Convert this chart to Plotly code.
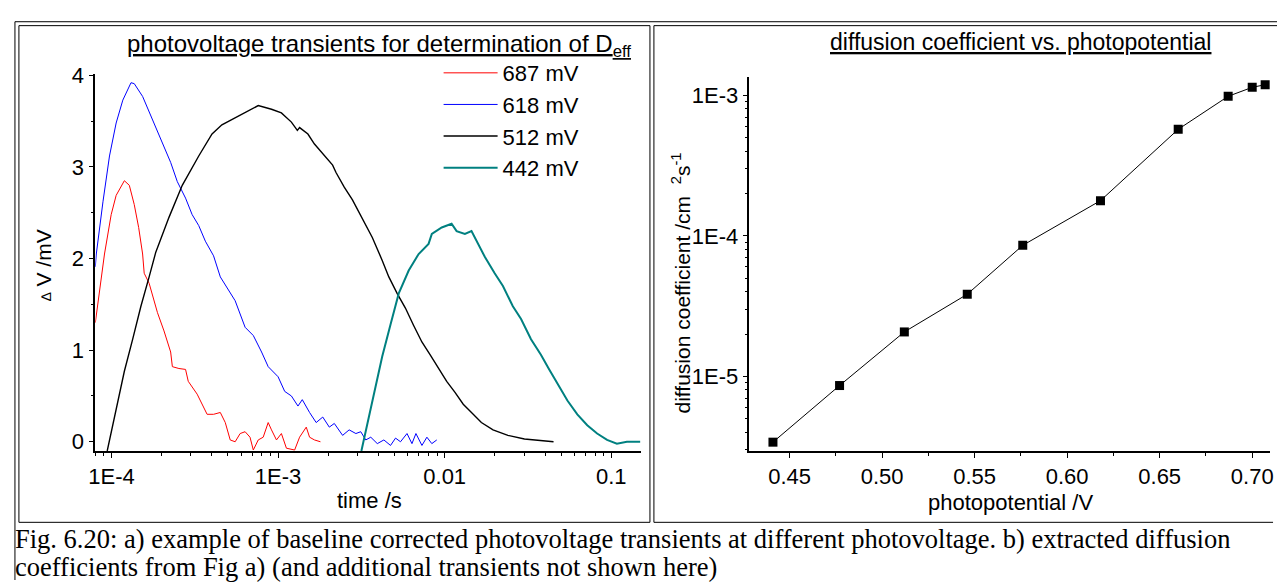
import plotly.graph_objects as go

# ---------------- data ----------------
t_687 = [8.0e-5, 9.08e-5, 9.96e-5, 1.067e-4, 1.195e-4, 1.28e-4, 1.37e-4, 1.456e-4, 1.538e-4, 1.572e-4,
         1.683e-4, 1.888e-4, 2.067e-4, 2.266e-4, 2.32e-4, 2.54e-4, 2.784e-4, 2.89e-4, 3.268e-4, 3.50e-4,
         3.75e-4, 4.10e-4, 4.50e-4, 4.82e-4, 5.16e-4, 5.525e-4, 5.92e-4, 6.34e-4, 6.785e-4, 7.10e-4,
         7.60e-4, 8.14e-4, 8.72e-4, 9.13e-4, 9.78e-4, 1.047e-3, 1.122e-3, 1.257e-3, 1.346e-3, 1.476e-3,
         1.545e-3, 1.653e-3, 1.796e-3]
v_687 = [1.30, 2.05, 2.48, 2.69, 2.85, 2.80, 2.59, 2.34, 2.05, 1.84,
         1.73, 1.41, 1.21, 0.98, 0.82, 0.80, 0.79, 0.66, 0.52, 0.41,
         0.30, 0.30, 0.32, 0.21, 0.02, 0.00, 0.09, 0.11, 0.05, -0.09,
         0.02, 0.05, 0.21, 0.13, 0.02, 0.09, -0.07, -0.09, 0.05, 0.16,
         0.05, 0.02, 0.00]

t_618 = [8.0e-5, 8.11e-5, 8.89e-5, 9.73e-5, 1.067e-4, 1.17e-4, 1.31e-4, 1.37e-4, 1.538e-4, 1.763e-4,
         1.977e-4, 2.266e-4, 2.484e-4, 2.784e-4, 3.05e-4, 3.34e-4, 3.66e-4, 4.10e-4, 4.50e-4, 5.16e-4,
         5.525e-4, 6.34e-4, 7.10e-4, 7.96e-4, 8.72e-4, 1.0e-3, 1.096e-3, 1.202e-3, 1.316e-3, 1.397e-3,
         1.545e-3, 1.693e-3, 1.854e-3, 2.03e-3, 2.175e-3, 2.44e-3, 2.67e-3, 2.93e-3, 3.135e-3, 3.36e-3,
         3.60e-3, 3.94e-3, 4.315e-3, 4.73e-3, 5.07e-3, 5.43e-3, 5.94e-3, 6.36e-3, 6.72e-3, 7.30e-3,
         7.82e-3, 8.37e-3, 8.96e-3]
v_618 = [1.91, 2.05, 2.62, 3.12, 3.48, 3.73, 3.92, 3.91, 3.77, 3.52,
         3.30, 3.05, 2.84, 2.66, 2.48, 2.36, 2.19, 2.03, 1.80, 1.62,
         1.54, 1.25, 1.16, 0.98, 0.82, 0.71, 0.55, 0.50, 0.39, 0.46,
         0.32, 0.21, 0.27, 0.16, 0.20, 0.07, 0.13, 0.09, 0.11, 0.02,
         0.05, -0.02, 0.02, -0.04, 0.04, 0.00, 0.09, -0.02, 0.09, -0.04,
         0.05, -0.02, 0.02]

t_512 = [9.43e-5, 1.067e-4, 1.195e-4, 1.341e-4, 1.502e-4, 1.683e-4, 1.845e-4, 2.214e-4, 2.66e-4, 3.34e-4,
         4.014e-4, 4.60e-4, 5.28e-4, 6.34e-4, 7.60e-4, 9.13e-4, 1.047e-3, 1.202e-3, 1.305e-3, 1.346e-3,
         1.51e-3, 1.653e-3, 1.897e-3, 2.125e-3, 2.227e-3, 2.495e-3, 2.795e-3, 3.064e-3, 3.36e-3, 3.677e-3,
         4.217e-3, 4.62e-3, 5.18e-3, 5.81e-3, 6.51e-3, 7.295e-3, 8.185e-3, 9.17e-3, 1.028e-2, 1.153e-2,
         1.292e-2, 1.448e-2, 1.66e-2, 1.95e-2, 2.395e-2, 3.01e-2, 3.78e-2, 4.50e-2]
v_512 = [-0.10, 0.37, 0.77, 1.12, 1.48, 1.80, 2.07, 2.45, 2.80, 3.12,
         3.36, 3.46, 3.52, 3.60, 3.67, 3.63, 3.59, 3.49, 3.40, 3.43,
         3.36, 3.25, 3.12, 3.02, 2.94, 2.78, 2.64, 2.50, 2.37, 2.23,
         1.98, 1.80, 1.62, 1.46, 1.27, 1.09, 0.95, 0.80, 0.66, 0.54,
         0.41, 0.32, 0.21, 0.13, 0.07, 0.03, 0.01, 0.00]

t_442 = [3.162e-3, 3.677e-3, 4.217e-3, 4.73e-3, 5.30e-3, 6.08e-3, 6.975e-3, 8.0e-3, 8.37e-3, 9.60e-3,
         1.10e-2, 1.179e-2, 1.322e-2, 1.448e-2, 1.552e-2, 1.74e-2, 1.995e-2, 2.236e-2, 2.564e-2, 2.873e-2,
         3.296e-2, 3.78e-2, 4.24e-2, 4.75e-2, 5.45e-2, 6.25e-2, 7.17e-2, 8.22e-2, 9.43e-2, 0.108,
         0.124, 0.149]
v_442 = [-0.10, 0.45, 0.93, 1.28, 1.62, 1.87, 2.05, 2.16, 2.27, 2.34,
         2.38, 2.30, 2.27, 2.30, 2.19, 2.02, 1.84, 1.70, 1.48, 1.34,
         1.12, 0.95, 0.79, 0.63, 0.45, 0.30, 0.18, 0.09, 0.02, -0.02,
         0.00, 0.00]

series_names = ["687 mV", "618 mV", "512 mV", "442 mV"]
series_colors = ["#ff0000", "#0000ff", "#000000", "#008080"]

photopotential = [0.441, 0.477, 0.512, 0.546, 0.576, 0.618, 0.660, 0.687, 0.700, 0.707]
diff_coeff = [3.4e-6, 8.6e-6, 2.07e-5, 3.84e-5, 8.56e-5, 1.78e-4, 5.73e-4, 9.84e-4, 1.14e-3, 1.19e-3]

left_xtick_vals = [1e-4, 1e-3, 1e-2, 1e-1]
left_xtick_text = ["1E-4", "1E-3", "0.01", "0.1"]
right_ytick_vals = [1e-5, 1e-4, 1e-3]
right_ytick_text = ["1E-5", "1E-4", "1E-3"]

caption_lines = [
    "Fig. 6.20: a) example of baseline corrected photovoltage transients at different photovoltage. b) extracted diffusion",
    "coefficients from Fig a) (and additional transients not shown here)",
]

# ---------------- layout helpers ----------------
W, H = 1280, 583
def px(x):
    return x / W
def py(y):
    return 1 - y / H

FONT = "Liberation Sans, Arial, sans-serif"
SERIF = "Liberation Serif, Times New Roman, serif"

fig = go.Figure()
widths = [1.0, 1.0, 1.4, 2.0]
for t, v, name, col, w in zip([t_687, t_618, t_512, t_442], [v_687, v_618, v_512, v_442],
                              series_names, series_colors, widths):
    fig.add_trace(go.Scatter(x=t, y=v, mode="lines", name=name,
                             line=dict(color=col, width=w), xaxis="x", yaxis="y"))

fig.add_trace(go.Scatter(x=photopotential, y=diff_coeff, mode="lines+markers",
                         line=dict(color="black", width=1),
                         marker=dict(symbol="square", size=9, color="black"),
                         showlegend=False, xaxis="x2", yaxis="y2"))

axis_common = dict(showgrid=False, zeroline=False, showline=True, linecolor="black", linewidth=1.6,
                   ticks="outside", tickcolor="black", tickwidth=1, ticklen=5,
                   tickfont=dict(family=FONT, size=22, color="black"))
minor_log = dict(ticks="outside", ticklen=3, tickcolor="black", dtick="D1", showgrid=False)

fig.update_layout(
    width=W, height=H, margin=dict(l=0, r=0, t=0, b=0),
    paper_bgcolor="white", plot_bgcolor="rgba(0,0,0,0)",
    showlegend=True,
    legend=dict(x=px(435), y=py(43), xanchor="left", yanchor="top",
                bgcolor="rgba(0,0,0,0)", font=dict(family=FONT, size=22, color="black"),
                itemwidth=54, tracegroupgap=0),
    xaxis=dict(type="log", domain=[px(89), px(639.3)], range=[-4.097, -0.82],
               tickmode="array", tickvals=left_xtick_vals, ticktext=left_xtick_text,
               minor=minor_log, anchor="y", **axis_common),
    yaxis=dict(domain=[py(451), py(65)], range=[-0.1, 4.02], dtick=1, tick0=0,
               minor=dict(ticks="outside", ticklen=3, tickcolor="black", dtick=0.5, showgrid=False),
               anchor="x", **axis_common),
    xaxis2=dict(domain=[px(748.3), px(1273.3)], range=[0.4283, 0.7098], dtick=0.05, tick0=0.45,
                tickformat=".2f",
                minor=dict(ticks="outside", ticklen=3, tickcolor="black", dtick=0.025, showgrid=False),
                anchor="y2", **axis_common),
    yaxis2=dict(type="log", domain=[py(451), py(68.3)], range=[-5.531, -2.868],
                tickmode="array", tickvals=right_ytick_vals, ticktext=right_ytick_text,
                minor=minor_log, anchor="x2", **axis_common),
)

# ---------------- table borders ----------------
def line(x0, y0, x1, y1):
    fig.add_shape(type="line", xref="paper", yref="paper",
                  x0=px(x0), y0=py(y0), x1=px(x1), y1=py(y1),
                  line=dict(color="black", width=1))
line(8, 12, 8, 583)
line(8, 12, 1280, 12)
line(12, 16, 648, 16); line(12, 16, 12, 524); line(648, 16, 648, 524); line(12, 524, 648, 524)
line(652, 16, 1280, 16); line(652, 16, 652, 524); line(652, 524, 1276, 524)

# ---------------- texts ----------------
def ann(text, x, y, size, xanchor="center", yanchor="middle", angle=0, family=FONT, align="center"):
    fig.add_annotation(text=text, x=px(x), y=py(y), xref="paper", yref="paper",
                       xanchor=xanchor, yanchor=yanchor, textangle=angle, showarrow=False,
                       align=align, font=dict(family=family, size=size, color="black"))

ann("<u>photovoltage transients for determination of D<sub>eff</sub></u>", 375, 36, 24)
ann("<u>diffusion coefficient vs. photopotential</u>", 1021, 33, 23)
ann("<span style='font-size:14px'>∆</span> V /mV", 36, 261, 21, angle=-90)
ann("diffusion coefficient /cm  <sup>2</sup>s<sup>-1</sup>", 679, 279, 21, angle=-90)
ann("time /s", 365, 502, 22)
ann("photopotential /V", 1011, 504, 22)
ann(caption_lines[0], 6, 541, 26.5, xanchor="left", family=SERIF, align="left")
ann(caption_lines[1], 6, 570, 26.5, xanchor="left", family=SERIF, align="left")

fig.write_html("out.html")
